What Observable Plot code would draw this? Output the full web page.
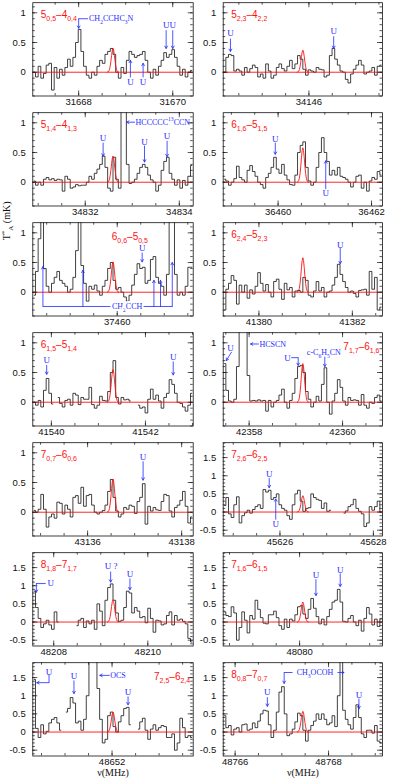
<!DOCTYPE html>
<html>
<head>
<meta charset="utf-8">
<script src="https://cdn.jsdelivr.net/npm/d3@7"></script>
<script src="https://cdn.jsdelivr.net/npm/@observablehq/plot@0.6"></script>
<style>
html,body{margin:0;padding:0;background:#fff;overflow:hidden;}
#wrap{position:relative;width:396px;height:780px;overflow:hidden;background:#fff;}
#wrap svg{position:absolute;overflow:visible;background:transparent;}
</style>
</head>
<body>
<div id="wrap"></div>
<script>
// ---------- data ----------
const centers = [31668.73, 34145.87, 34832.59, 36460.53, 37459.91, 41380.94, 41541.31,
                 42359.15, 43136.54, 45626.49, 48209.26, 48080.07, 48652.02, 48767.45];
const transitions = ["5_{0,5}–4_{0,4}", "5_{2,3}–4_{2,2}", "5_{1,4}–4_{1,3}", "6_{1,6}–5_{1,5}",
                     "6_{0,6}–5_{0,5}", "6_{2,4}–5_{2,3}", "6_{1,5}–5_{1,4}", "7_{1,7}–6_{1,6}",
                     "7_{0,7}–6_{0,6}", "7_{2,6}–6_{2,5}", "8_{1,8}–7_{1,7}", "7_{1,6}–6_{1,5}",
                     "7_{2,5}–6_{2,4}", "8_{0,8}–7_{0,7}"];
const labelPlace = ["tl","tl","tl","tl","tc","tl","tl","tr","tl","tl","tl","tl","tr","tl"];
const xTickLabels = [[31668,31670],[34146],[34832,34834],[36460,36462],[37460],[41380,41382],
                     [41540,41542],[42358,42360],[43136,43138],[45626,45628],[48208,48210],
                     [48080],[48652],[48766,48768]];
const halfSpan = 1.705;
const yDomainSmall = [-0.40, 1.17], yDomainBig = [-0.66, 1.91];
const yTicksSmall = [0, 0.5, 1], yTicksBig = [-0.5, 0, 0.5, 1, 1.5];
const modelPeaks = [0.40, 0.37, 0.44, 0.58, 0.51, 0.58, 0.55, 0.65, 0.56, 0.45, 0.61, 0.55, 0.55, 0.57];
const modelOffsets = [-0.12,-0.105,-0.09,-0.075,-0.06,-0.045,-0.03,-0.015,0,0.015,0.03,0.045,0.06,0.075,0.09,0.105,0.12];
const modelShape = [0.004,0.014,0.044,0.114,0.25,0.458,0.707,0.917,1,0.917,0.707,0.458,0.25,0.114,0.044,0.014,0.004];

const s01 = [0.0,-0.08,0.1,-0.1,-0.02,0.12,0.15,-0.3,0.08,-0.1,0.05,-0.05,0.08,0.22,0.1,0.25,0.5,0.72,0.35,0.1,-0.05,-0.1,0.0,-0.05,0.1,0.2,0.15,0.3,0.35,0.4,0.3,0.0,-0.1,0.08,-0.02,0.2,0.35,0.3,0.25,0.28,0.3,0.35,0.2,0.0,-0.1,0.05,-0.05,0.1,0.2,0.33,0.25,0.3,0.38,0.25,0.1,-0.05,0.05,-0.08,0.0,0.03];
const s02 = [0.0,0.25,0.3,0.28,0.02,0.05,0.02,-0.05,0.08,0.0,0.06,0.12,0.08,-0.08,-0.03,-0.1,0.14,0.02,-0.1,-0.05,0.08,0.14,0.06,0.02,0.1,0.2,0.06,0.14,0.28,0.22,0.05,-0.05,0.04,0.02,0.0,0.08,0.05,0.04,-0.08,-0.05,0.28,0.4,0.22,0.12,0.02,0.0,-0.12,-0.18,-0.03,0.05,0.12,0.2,0.12,-0.03,0.0,0.02,0.08,-0.05,0.1,0.12];
const s03 = [0.02,-0.05,0.0,-0.05,0.05,0.08,0.04,0.06,0.03,0.05,0.04,-0.15,0.1,0.05,-0.1,-0.08,-0.04,-0.06,-0.05,-0.05,0.0,0.1,0.05,0.15,0.22,0.3,0.44,0.25,-0.1,-0.15,0.42,0.05,-0.1,1.5,1.5,0.3,-0.02,0.0,0.05,0.15,0.25,0.3,0.25,0.12,0.04,0.0,-0.15,-0.05,0.2,0.35,0.42,0.15,0.05,-0.05,0.04,-0.1,0.03,-0.05,0.1,0.28];
const s04 = [0.05,0.02,-0.05,0.0,0.06,0.27,0.08,0.04,0.0,0.2,0.28,0.18,0.1,0.0,-0.04,-0.1,0.08,0.15,0.25,0.42,0.22,0.15,0.3,0.12,0.04,-0.04,-0.05,0.12,0.5,0.62,0.68,0.25,0.02,-0.05,0.0,0.25,0.5,0.75,0.5,0.35,0.12,0.2,0.12,0.25,0.1,0.08,0.05,0.0,-0.08,0.0,0.1,0.12,-0.1,0.0,-0.15,0.02,0.08,0.05,0.18,0.12];
const s05 = [-0.05,0.35,0.9,1.6,0.4,0.1,0.0,0.15,0.25,0.35,0.2,0.15,0.1,0.0,0.05,0.25,0.7,1.6,0.45,0.15,-0.15,0.1,0.05,0.12,0.02,-0.05,0.1,0.2,0.4,0.5,0.2,0.05,0.08,0.0,-0.08,-0.15,-0.05,0.12,0.3,0.48,0.4,0.42,0.15,0.2,0.55,0.6,0.25,0.15,0.1,-0.05,0.3,1.6,1.6,0.3,-0.05,0.0,-0.05,0.1,0.42,0.42];
const s06 = [-0.3,0.05,0.15,0.28,0.2,-0.2,0.12,0.0,0.12,-0.1,0.04,-0.03,0.1,0.33,0.15,0.02,0.13,0.0,-0.08,0.18,0.22,0.05,-0.12,0.15,0.04,0.08,-0.08,0.02,0.03,0.0,0.25,0.2,-0.05,-0.08,0.02,0.18,0.02,0.08,-0.08,0.0,0.02,0.12,0.25,0.47,0.3,0.18,0.08,0.0,0.02,-0.02,-0.08,0.03,0.04,0.05,-0.05,0.35,0.05,0.25,-0.3,-0.25];
const s07 = [0.0,-0.05,0.03,-0.08,0.2,0.4,0.15,-0.03,null,0.08,-0.02,-0.08,0.03,0.05,-0.05,0.15,0.12,-0.04,0.08,0.05,0.05,0.25,-0.04,-0.1,-0.05,0.1,0.03,0.02,0.18,0.5,0.7,0.08,-0.03,0.08,0.04,0.05,0.02,null,null,-0.05,-0.1,-0.08,-0.18,0.05,0.22,0.05,0.12,0.02,-0.1,0.08,0.15,0.38,0.3,0.15,0.0,-0.02,-0.08,-0.15,-0.05,0.15];
const s08 = [0.65,0.2,0.02,0.0,0.05,0.6,1.6,1.6,1.6,0.45,0.02,0.03,0.02,0.04,0.02,0.03,-0.15,0.03,-0.08,0.0,0.03,0.12,0.22,0.0,-0.1,0.03,0.15,0.4,0.6,0.62,0.5,0.18,0.05,-0.08,0.0,0.1,0.02,0.3,0.58,0.0,-0.2,0.02,0.15,0.38,0.25,0.02,-0.05,0.08,0.03,0.04,0.03,-0.05,0.13,-0.05,-0.1,0.0,-0.02,0.08,0.12,0.02];
const s09 = [0.03,0.0,0.05,0.3,0.05,-0.25,-0.08,-0.03,-0.1,0.17,0.15,-0.03,0.12,0.05,-0.08,0.25,0.28,0.15,0.42,0.1,0.28,0.3,0.12,0.0,-0.03,0.0,0.03,0.12,0.35,0.55,0.25,0.02,-0.08,-0.03,0.08,0.05,0.12,0.1,-0.02,0.18,0.25,0.48,-0.2,0.1,0.02,0.08,0.04,0.03,0.18,0.3,0.28,0.02,-0.08,0.08,0.12,0.2,0.35,0.1,-0.18,-0.08];
const s10 = [0.18,0.4,-0.05,-0.15,0.2,0.42,-0.3,-0.1,-0.02,0.05,-0.03,0.07,0.15,0.2,0.1,0.62,0.55,0.6,0.35,0.4,0.5,0.2,0.1,0.05,-0.1,-0.2,0.2,0.5,0.6,0.3,0.02,0.1,0.12,0.5,0.4,0.35,0.32,0.1,0.25,0.02,0.05,null,null,null,null,-0.03,0.03,0.15,0.2,0.35,0.1,0.02,-0.05,-0.4,-0.3,0.15,0.05,0.15,0.3,0.0];
const s11 = [0.85,0.4,0.1,-0.15,-0.05,0.05,-0.08,-0.2,0.28,0.0,null,null,null,null,null,null,-0.1,0.05,0.1,-0.15,0.03,-0.05,0.05,-0.2,0.5,0.3,-0.1,0.6,0.95,1.05,0.6,0.25,0.02,0.05,0.4,0.85,0.8,0.25,0.4,0.3,0.12,0.15,-0.02,0.38,0.1,-0.28,0.05,0.03,-0.08,-0.05,0.18,0.28,-0.08,0.18,0.05,0.08,0.02,-0.05,-0.45,-0.55];
const s12 = [0.28,0.18,0.15,0.42,0.25,-0.5,-0.15,0.28,0.05,-0.3,0.18,0.08,0.6,0.35,0.12,-0.03,-0.05,0.2,0.2,0.3,0.12,-0.1,-0.2,0.08,-0.15,0.08,0.03,0.2,0.42,0.45,0.22,0.1,0.35,0.65,0.38,0.15,-0.05,0.08,-0.08,0.15,0.35,0.55,0.6,0.9,0.55,0.02,0.0,0.1,0.18,0.0,-0.1,0.05,-0.25,0.1,0.4,0.22,-0.08,0.08,-0.12,0.08];
const s13 = [1.45,0.1,-0.15,0.2,-0.05,0.02,0.25,0.35,0.4,0.25,0.05,null,0.55,0.65,0.95,0.8,0.25,0.3,0.05,0.35,1.0,2.5,2.5,2.5,1.2,0.35,-0.3,-0.2,0.45,0.55,0.15,0.0,0.28,0.45,0.65,0.68,0.2,null,null,0.08,0.28,0.38,0.05,-0.2,0.08,0.2,0.05,0.12,0.18,0.15,-0.15,-0.15,-0.05,-0.5,-0.3,0.38,0.12,-0.15,-0.1,-0.15];
const s14 = [0.45,0.12,0.18,-0.08,0.08,0.12,0.0,0.2,0.22,0.05,0.08,0.25,0.12,0.3,0.5,0.6,0.58,0.2,-0.15,0.05,0.55,1.1,1.25,0.5,-0.1,-0.05,0.08,0.28,0.52,0.45,0.05,-0.25,0.05,0.18,0.3,0.5,0.35,0.5,0.35,0.2,0.25,0.45,0.15,1.0,2.0,0.6,0.35,0.2,0.08,0.4,0.75,0.4,-0.05,-0.15,0.05,0.05,-0.03,0.18,-0.25,-0.3];

// annotations (MHz, T_A* units)
const arrowsData = [
 {p:0,x1:31668.00,y1:0.90,x2:31668.00,y2:0.74},
 {p:0,x1:31669.86,y1:0.70,x2:31669.86,y2:0.40},
 {p:0,x1:31670.00,y1:0.70,x2:31670.00,y2:0.40},
 {p:0,x1:31669.10,y1:-0.08,x2:31669.10,y2:0.20},
 {p:0,x1:31669.37,y1:-0.08,x2:31669.37,y2:0.15},
 {p:1,x1:34144.32,y1:0.56,x2:34144.32,y2:0.35},
 {p:1,x1:34146.53,y1:0.60,x2:34146.53,y2:0.40},
 {p:2,x1:34833.05,y1:1.01,x2:34832.88,y2:1.01},
 {p:2,x1:34832.38,y1:0.66,x2:34832.38,y2:0.44},
 {p:2,x1:34833.26,y1:0.61,x2:34833.26,y2:0.34},
 {p:2,x1:34833.74,y1:0.69,x2:34833.74,y2:0.43},
 {p:3,x1:36459.94,y1:0.66,x2:36459.94,y2:0.47},
 {p:3,x1:36461.02,y1:-0.11,x2:36461.02,y2:0.36},
 {p:4,x1:37460.53,y1:0.66,x2:37460.53,y2:0.51},
 {p:4,x1:37458.42,y1:-0.24,x2:37458.42,y2:0.43},
 {p:4,x1:37459.27,y1:-0.24,x2:37459.27,y2:0.37},
 {p:4,x1:37460.78,y1:-0.24,x2:37460.78,y2:0.20},
 {p:4,x1:37460.92,y1:-0.24,x2:37460.92,y2:0.20},
 {p:4,x1:37461.17,y1:-0.24,x2:37461.17,y2:0.50},
 {p:5,x1:41381.74,y1:0.74,x2:41381.74,y2:0.48},
 {p:6,x1:41539.90,y1:0.62,x2:41539.90,y2:0.47},
 {p:6,x1:41542.59,y1:0.68,x2:41542.59,y2:0.46},
 {p:7,x1:42357.62,y1:0.84,x2:42357.51,y2:0.70},
 {p:7,x1:42358.20,y1:0.98,x2:42358.03,y2:0.98},
 {p:7,x1:42359.05,y1:0.75,x2:42359.05,y2:0.62},
 {p:7,x1:42359.62,y1:0.76,x2:42359.62,y2:0.60},
 {p:8,x1:43137.18,y1:0.85,x2:43137.18,y2:0.54},
 {p:9,x1:45625.77,y1:0.93,x2:45625.77,y2:0.67},
 {p:9,x1:45625.91,y1:-0.20,x2:45625.91,y2:0.36},
 {p:10,x1:48207.63,y1:1.06,x2:48207.63,y2:0.82},
 {p:10,x1:48209.21,y1:1.38,x2:48209.21,y2:1.10},
 {p:10,x1:48209.62,y1:1.19,x2:48209.62,y2:0.89},
 {p:11,x1:48080.35,y1:1.17,x2:48080.35,y2:0.73},
 {p:11,x1:48080.87,y1:1.33,x2:48080.87,y2:0.98},
 {p:12,x1:48650.66,y1:1.36,x2:48650.40,y2:1.36},
 {p:12,x1:48651.19,y1:1.41,x2:48651.19,y2:1.06},
 {p:12,x1:48651.94,y1:1.56,x2:48651.74,y2:1.56},
 {p:12,x1:48652.34,y1:0.97,x2:48652.34,y2:0.75},
 {p:13,x1:48767.05,y1:1.64,x2:48767.05,y2:1.34},
 {p:13,x1:48768.20,y1:1.64,x2:48768.33,y2:1.64},
 {p:13,x1:48766.69,y1:0.95,x2:48766.69,y2:0.71},
 {p:13,x1:48768.65,y1:0.91,x2:48768.65,y2:0.64}
];
const linksData = [
 {p:0,x1:31668.20,y1:0.90,x2:31668.00,y2:0.90},
 {p:4,x1:37458.42,y1:-0.24,x2:37461.17,y2:-0.24},
 {p:7,x1:42358.90,y1:0.75,x2:42359.05,y2:0.75},
 {p:10,x1:48207.83,y1:1.06,x2:48207.63,y2:1.06},
 {p:12,x1:48650.66,y1:1.58,x2:48650.66,y2:1.36},
 {p:13,x1:48767.23,y1:1.64,x2:48767.05,y2:1.64}
];
const notesData = [
 {p:0,x:31668.22,y:0.90,text:"CH_2CCHC_3N",anchor:"start"},
 {p:0,x:31669.86,y:0.79,text:"U"},
 {p:0,x:31670.00,y:0.79,text:"U"},
 {p:0,x:31669.10,y:-0.17,text:"U"},
 {p:0,x:31669.37,y:-0.17,text:"U"},
 {p:1,x:34144.32,y:0.65,text:"U"},
 {p:1,x:34146.53,y:0.69,text:"U"},
 {p:2,x:34833.07,y:1.01,text:"HCCCCC^{13}CCN",anchor:"start"},
 {p:2,x:34832.38,y:0.74,text:"U"},
 {p:2,x:34833.26,y:0.68,text:"U"},
 {p:2,x:34833.74,y:0.77,text:"U"},
 {p:3,x:36459.94,y:0.72,text:"U"},
 {p:3,x:36461.02,y:-0.19,text:"U"},
 {p:4,x:37460.53,y:0.74,text:"U"},
 {p:4,x:37460.21,y:-0.24,text:"CH_2CCH",halo:true},
 {p:5,x:41381.74,y:0.80,text:"U"},
 {p:6,x:41539.90,y:0.71,text:"U"},
 {p:6,x:41542.59,y:0.76,text:"U"},
 {p:7,x:42357.60,y:0.91,text:"U"},
 {p:7,x:42358.22,y:0.98,text:"HCSCN",anchor:"start"},
 {p:7,x:42358.82,y:0.75,text:"U"},
 {p:7,x:42359.60,y:0.83,text:"c-C_6H_5CN"},
 {p:8,x:43137.18,y:0.93,text:"U"},
 {p:9,x:45625.77,y:1.05,text:"U"},
 {p:9,x:45625.91,y:-0.34,text:"U"},
 {p:10,x:48207.87,y:1.06,text:"U",anchor:"start"},
 {p:10,x:48209.22,y:1.54,text:"U ?"},
 {p:10,x:48209.62,y:1.33,text:"U"},
 {p:11,x:48080.35,y:1.29,text:"U"},
 {p:11,x:48080.87,y:1.44,text:"U"},
 {p:12,x:48650.66,y:1.66,text:"U"},
 {p:12,x:48651.19,y:1.55,text:"U"},
 {p:12,x:48651.96,y:1.56,text:"OCS",anchor:"start"},
 {p:12,x:48652.34,y:1.09,text:"U"},
 {p:13,x:48767.71,y:1.64,text:"CH_3OCOH"},
 {p:13,x:48766.69,y:1.09,text:"U"},
 {p:13,x:48768.65,y:1.03,text:"U"}
];

// ---------- drawing ----------
const RED = "#ff1010", BLUE = "#1f2bff", INK = "#111";
const SANS = "'Liberation Sans', Arial, sans-serif";
const SERIF = "'Liberation Serif', 'Times New Roman', serif";
const spectra = [s01,s02,s03,s04,s05,s06,s07,s08,s09,s10,s11,s12,s13,s14];
const wrap = document.getElementById("wrap");

function richify(el) {
  const s = el.textContent;
  const base = parseFloat(getComputedStyle(el).fontSize) || 10;
  el.textContent = "";
  let shift = 0;
  const re = /([_^])(\{[^}]*\}|.)|([^_^]+)/g;
  let m;
  while ((m = re.exec(s))) {
    let txt, target;
    if (m[3] !== undefined) { txt = m[3]; target = 0; }
    else { txt = m[2][0] === "{" ? m[2].slice(1, -1) : m[2]; target = m[1] === "_" ? base * 0.32 : -base * 0.42; }
    const ts = d3.select(el).append("tspan").text(txt);
    if (target !== shift) ts.attr("dy", target - shift);
    if (target !== 0) ts.attr("font-size", base * 0.7);
    shift = target;
  }
}
const fmtY = d => d < 0 ? "-" + (-d) : String(d);
const noteSize = d => d.text[0] === "U" ? 9 : 8;

spectra.forEach((vals, i) => {
  const col = i % 2, row = Math.floor(i / 2);
  const c = centers[i];
  const W = 200, H = row === 6 ? 120 : 110;
  const mt = 2.2, fh = 93.3, mb = H - mt - fh;
  const ml = col ? 26.7 : 32.3, mr = col ? 14 : 7.3, fw = W - ml - mr;
  const big = i >= 9;
  const yDom = big ? yDomainBig : yDomainSmall;
  const yMaj = big ? yTicksBig : yTicksSmall;
  const xLo = c - halfSpan, xHi = c + halfSpan, chW = 2 * halfSpan / vals.length;
  const spec = vals.map((v, k) => ({x: xLo + (k + 0.5) * chW, y: v}));
  const model = modelOffsets.map((o, k) => ({x: c + o, y: modelPeaks[i] * modelShape[k]}));
  const xMin = d3.range(Math.ceil(xLo * 2), Math.floor(xHi * 2) + 1).map(d => d / 2);
  const yMin = d3.range(Math.ceil(yDom[0] * 10), Math.floor(yDom[1] * 10) + 1).map(d => d / 10);
  const A = arrowsData.filter(d => d.p === i), L = linksData.filter(d => d.p === i), N = notesData.filter(d => d.p === i);
  const tk = {stroke: INK, strokeWidth: 0.7};
  const place = labelPlace[i];
  const marks = [
    Plot.line(spec, {x: "x", y: "y", curve: "step", stroke: INK, strokeWidth: 0.8, clip: true}),
    Plot.ruleY([0], {stroke: RED, strokeWidth: 0.9}),
    Plot.line(model, {x: "x", y: "y", stroke: RED, strokeWidth: 0.9}),
    Plot.tickX(xMin, {x: d => d, insetTop: fh - 2.5, ...tk}),
    Plot.tickX(xMin, {x: d => d, insetBottom: fh - 2.5, ...tk}),
    Plot.tickX(xTickLabels[i], {x: d => d, insetTop: fh - 5, ...tk}),
    Plot.tickX(xTickLabels[i], {x: d => d, insetBottom: fh - 5, ...tk}),
    Plot.tickY(yMin, {y: d => d, insetRight: fw - 2.5, ...tk}),
    Plot.tickY(yMin, {y: d => d, insetLeft: fw - 2.5, ...tk}),
    Plot.tickY(yMaj, {y: d => d, insetRight: fw - 5, ...tk}),
    Plot.tickY(yMaj, {y: d => d, insetLeft: fw - 5, ...tk}),
    Plot.frame({stroke: INK, strokeWidth: 0.8}),
    Plot.link(L, {x1: "x1", y1: "y1", x2: "x2", y2: "y2", stroke: BLUE, strokeWidth: 0.8}),
    Plot.arrow(A, {x1: "x1", y1: "y1", x2: "x2", y2: "y2", stroke: BLUE, strokeWidth: 0.8, headLength: 5}),
    Plot.text(N.filter(d => d.anchor !== "start" && !d.halo), {x: "x", y: "y", text: "text", fill: BLUE, fontSize: noteSize, fontFamily: SERIF}),
    Plot.text(N.filter(d => d.anchor === "start"), {x: "x", y: "y", text: "text", fill: BLUE, fontSize: noteSize, fontFamily: SERIF, textAnchor: "start"}),
    Plot.text(N.filter(d => d.halo), {x: "x", y: "y", text: "text", fill: BLUE, fontSize: noteSize, fontFamily: SERIF, stroke: "white", strokeWidth: 4}),
    Plot.text([transitions[i]], {
      text: d => d, fill: RED, fontSize: 10, fontFamily: SANS,
      frameAnchor: place === "tr" ? "top-right" : "top-left",
      textAnchor: place === "tr" ? "end" : "start",
      dx: place === "tr" ? -3 : place === "tc" ? 79 : 8,
      dy: place === "tl" ? 8.5 : 10
    })
  ];
  if (i === 12 || i === 13) {
    marks.push(Plot.text(["ν(MHz)"], {text: d => d, frameAnchor: "bottom", dy: 19.5, fontFamily: SERIF, fontSize: 10, fill: INK}));
  }
  if (i === 4) {
    marks.push(Plot.text(["T^*_A (mK)"], {text: d => d, frameAnchor: "left", dx: -26, dy: -29, rotate: -90, fontFamily: SERIF, fontSize: 10, fill: INK}));
  }
  const svg = Plot.plot({
    width: W, height: H,
    marginTop: mt, marginBottom: mb, marginLeft: ml, marginRight: mr,
    style: {fontFamily: SANS, fontSize: "9.5px", background: "transparent", color: INK},
    x: {domain: [xLo, xHi], ticks: xTickLabels[i], tickFormat: "d", tickSize: 0, tickPadding: 2, label: null},
    y: {domain: yDom, ticks: yMaj, tickFormat: fmtY, tickSize: 0, tickPadding: 7, label: null},
    marks
  });
  svg.style.left = (col ? 196 : 0) + "px";
  svg.style.top = (row * 110) + "px";
  wrap.appendChild(svg);
  svg.querySelectorAll("text").forEach(el => { if (/[_^]/.test(el.textContent)) richify(el); });
});
</script>
</body>
</html>
